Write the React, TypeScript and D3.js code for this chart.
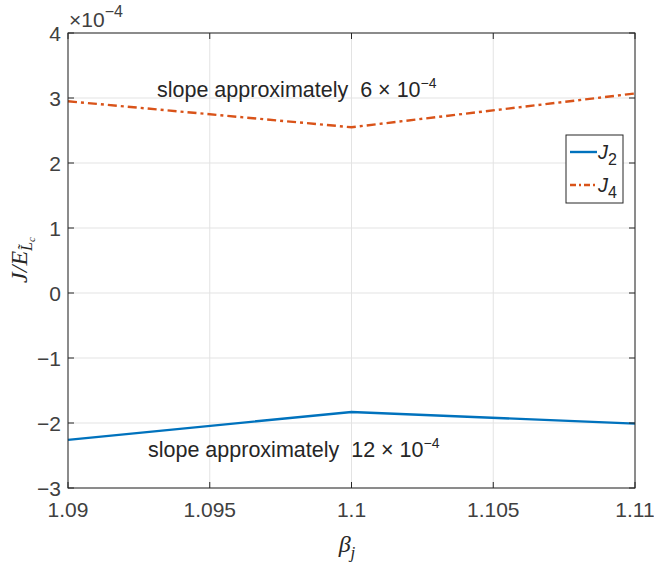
import React from "react";
import * as d3 from "d3";

const betaValues = [1.09, 1.1, 1.11];
const j2Values = [-2.26, -1.83, -2.01];
const j4Values = [2.95, 2.55, 3.07];
const xTicks = [1.09, 1.095, 1.1, 1.105, 1.11];
const yTicks = [-3, -2, -1, 0, 1, 2, 3, 4];

const W = 654, H = 565;
const L = 68, R = 635, T = 33, B = 488;
const FONT = "'Liberation Sans', Arial, Helvetica, sans-serif";
const SERIF = "'Liberation Serif', 'DejaVu Serif', serif";
const TXT = "#262626";
const TICK = "#404040";

export default function App() {
  const x = d3.scaleLinear().domain([1.09, 1.11]).range([L, R]);
  const y = d3.scaleLinear().domain([-3, 4]).range([B, T]);
  const line = d3.line<number>().x((_, i) => x(betaValues[i])).y((d) => y(d));
  const fmtX = (v: number) => String(+v.toFixed(3));
  return (
    <svg width={W} height={H} style={{ position: "absolute", left: 0, top: 0, background: "#fff" }}>
      <rect x={0} y={0} width={W} height={H} fill="#fff" />
      {/* grid */}
      {xTicks.map((t) => (
        <line key={"gx" + t} x1={x(t)} x2={x(t)} y1={T} y2={B} stroke="#e3e3e3" strokeWidth={1} />
      ))}
      {yTicks.map((t) => (
        <line key={"gy" + t} x1={L} x2={R} y1={y(t)} y2={y(t)} stroke="#e3e3e3" strokeWidth={1} />
      ))}
      {/* data */}
      <path d={line(j2Values) || ""} fill="none" stroke="#0072BD" strokeWidth={2.4} />
      <path d={line(j4Values) || ""} fill="none" stroke="#D95319" strokeWidth={2.4} strokeDasharray="9 4 3 4" />
      {/* box */}
      <rect x={L} y={T} width={R - L} height={B - T} fill="none" stroke="#262626" strokeWidth={1} />
      {/* ticks */}
      {xTicks.map((t) => (
        <g key={"tx" + t}>
          <line x1={x(t)} x2={x(t)} y1={B} y2={B - 6} stroke="#262626" />
          <line x1={x(t)} x2={x(t)} y1={T} y2={T + 6} stroke="#262626" />
          <text x={x(t)} y={B + 29} textAnchor="middle" fontFamily={FONT} fontSize={21} fill={TICK}>
            {fmtX(t)}
          </text>
        </g>
      ))}
      {yTicks.map((t) => (
        <g key={"ty" + t}>
          <line x1={L} x2={L + 6} y1={y(t)} y2={y(t)} stroke="#262626" />
          <line x1={R} x2={R - 6} y1={y(t)} y2={y(t)} stroke="#262626" />
          <text x={L - 7} y={y(t) + 7.5} textAnchor="end" fontFamily={FONT} fontSize={21} fill={TICK}>
            {t < 0 ? "\u2212" + Math.abs(t) : String(t)}
          </text>
        </g>
      ))}
      {/* exponent */}
      <text x={69} y={27} fontFamily={FONT} fontSize={21} fill={TICK}>
        ×10<tspan dy={-10} fontSize={16}>−4</tspan>
      </text>
      {/* annotations */}
      <text x={157} y={97} fontFamily={FONT} fontSize={21.5} fill={TXT}>
        slope approximately{"\u00a0\u00a0"}6 × 10<tspan dy={-9} fontSize={14}>−4</tspan>
      </text>
      <text x={148} y={457} fontFamily={FONT} fontSize={21.5} fill={TXT}>
        slope approximately{"\u00a0\u00a0"}12 × 10<tspan dy={-9} fontSize={14}>−4</tspan>
      </text>
      {/* legend */}
      <rect x={566} y={135} width={57} height={68} fill="#fff" stroke="#262626" strokeWidth={1} />
      <line x1={570} x2={597} y1={152} y2={152} stroke="#0072BD" strokeWidth={2.4} />
      <text x={598} y={159} fontFamily={FONT} fontSize={20} fontStyle="italic" fill={TXT}>
        J<tspan dy={6} fontSize={16} fontStyle="normal">2</tspan>
      </text>
      <line x1={570} x2={597} y1={185} y2={185} stroke="#D95319" strokeWidth={2.4} strokeDasharray="6 3 2 3" />
      <text x={598} y={192} fontFamily={FONT} fontSize={20} fontStyle="italic" fill={TXT}>
        J<tspan dy={6} fontSize={16} fontStyle="normal">4</tspan>
      </text>
      {/* axis labels */}
      <text x={347} y={552} textAnchor="middle" fontFamily={SERIF} fontStyle="italic" fontSize={24} fill={TXT}>
        β<tspan dy={6} fontSize={17}>j</tspan>
      </text>
      <g transform="translate(27,260) rotate(-90)">
        <text x={0} y={0} textAnchor="middle" fontFamily={SERIF} fontStyle="italic" fontSize={24} fill={TXT}>
          J/E
          <tspan dy={5} fontSize={16}>L̃</tspan>
          <tspan dy={3} fontSize={11}>c</tspan>
        </text>
      </g>
    </svg>
  );
}
